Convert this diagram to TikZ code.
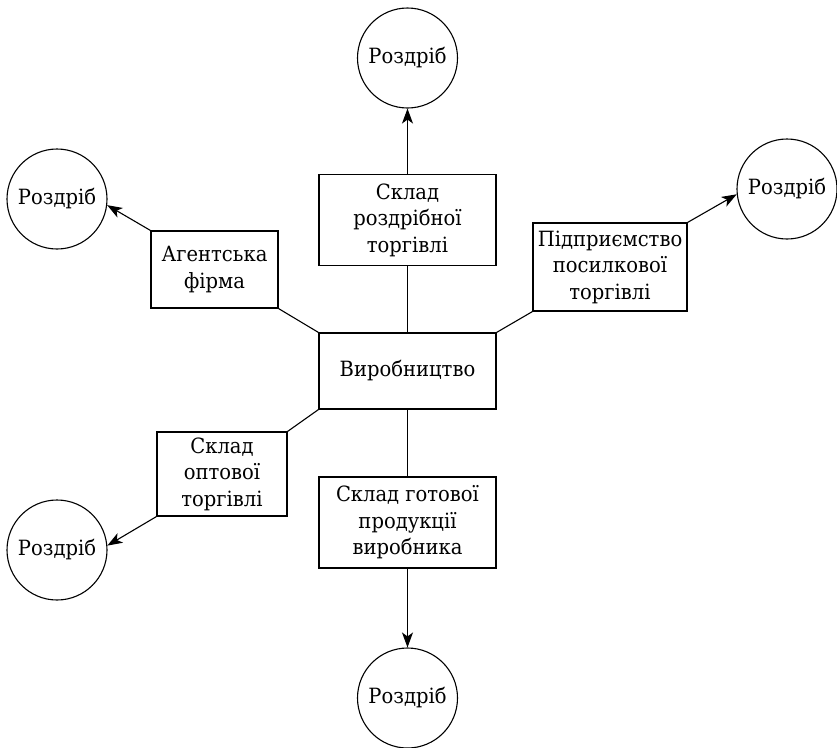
\documentclass[tikz,border=0pt]{standalone}
\usepackage{fontspec}
\setmainfont{DejaVu Serif}[FakeStretch=0.93]
\usetikzlibrary{arrows.meta}

\begin{document}
\begin{tikzpicture}[x=1pt, y=-1pt, line width=1.1pt,
  txt/.style={font=\fontsize{21}{26.5}\selectfont},
  box/.style={txt, draw, rectangle, inner sep=0pt, align=center},
  shop/.style={txt, draw, circle, minimum size=100pt, inner sep=0pt},
  flow/.style={-{Stealth[length=15pt, width=11pt, inset=4pt]}}]
\useasboundingbox (0,0) rectangle (837,747);

% central producer and its channels
\node[box, minimum width=177pt, minimum height=76pt] (prod) at (407.5,371) {Виробництво};
\node[box, minimum width=177pt, minimum height=91pt] (retail) at (407.5,220) {Склад\\роздрібної\\торгівлі};
\node[box, minimum width=127pt, minimum height=77pt] (agent) at (214.5,269.5) {Агентська\\фірма};
\node[box, minimum width=154pt, minimum height=88pt] (mail) at (610,267) {Підприємство\\посилкової\\торгівлі};
\node[box, minimum width=130pt, minimum height=84pt] (whole) at (222,474) {Склад\\оптової\\торгівлі};
\node[box, minimum width=177pt, minimum height=91pt] (stock) at (407.5,522.5) {Склад готової\\продукції\\виробника};

% retail outlets
\node[shop] (rtop) at (407.5,58) {Роздріб};
\node[shop] (rul) at (57,199) {Роздріб};
\node[shop] (rr) at (787,189) {Роздріб};
\node[shop] (rll) at (57,550) {Роздріб};
\node[shop] (rbot) at (407.5,698) {Роздріб};

% links from production
\draw (retail.south) -- (prod.north);
\draw (agent.south east) -- (prod.north west);
\draw (mail.south west) -- (prod.north east);
\draw (prod.south west) -- (whole.north east);
\draw (prod.south) -- (stock.north);

% deliveries to retail
\draw[flow] (retail.north) -- (rtop.south);
\draw[flow] (agent.north west) -- (rul.-7);
\draw[flow] (mail.north east) -- (rr.186);
\draw[flow] (whole.south west) -- (rll.5);
\draw[flow] (stock.south) -- (rbot.north);
\end{tikzpicture}
\end{document}
